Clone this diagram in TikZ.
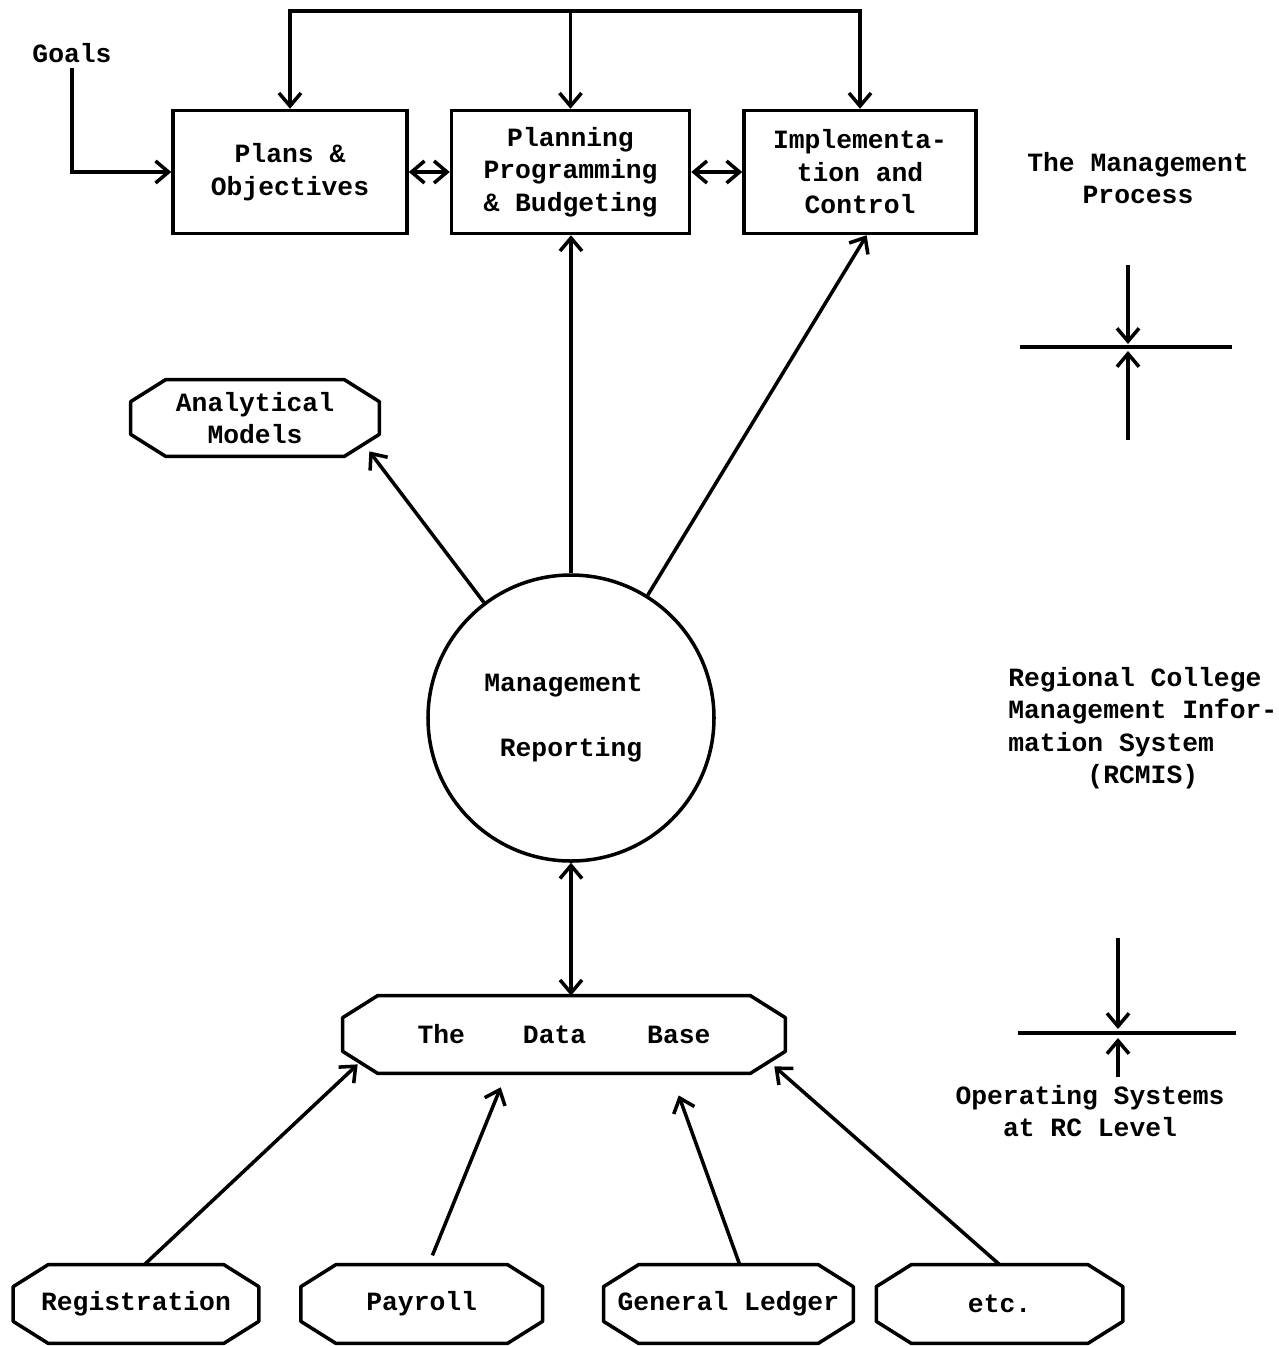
\documentclass[tikz,border=0pt]{standalone}
\usepackage{fontspec}
\setmonofont{Liberation Mono}
\usetikzlibrary{arrows.meta,positioning,calc}
\newcommand{\twfont}{\ttfamily\bfseries\fontsize{15}{18.5}\selectfont}
% octagonal frame round a named node
\newcommand{\octframe}[1]{%
  \draw[rule] ($(#1.north west)+(0.7,0)$) -- ($(#1.north east)+(-0.7,0)$) -- ($(#1.north east)+(0,-0.44)$)
    -- ($(#1.south east)+(0,0.44)$) -- ($(#1.south east)+(-0.7,0)$) -- ($(#1.south west)+(0.7,0)$)
    -- ($(#1.south west)+(0,0.44)$) -- ($(#1.north west)+(0,-0.44)$) -- cycle;}
\tikzset{
  box/.style={draw,line width=2pt,align=center,font=\twfont,minimum height=24.6mm,minimum width=47mm},
  octbox/.style={rectangle,align=center,font=\twfont,inner sep=0pt,minimum height=15.6mm,minimum width=49mm},
  bubble/.style={circle,draw,line width=2pt,align=center,font=\twfont,minimum size=57.2mm},
  txt/.style={align=center,font=\twfont,inner sep=0pt},
  arrow/.style={-{Straight Barb[length=2.6mm,width=4.4mm]},line width=2pt},
  dblarrow/.style={{Straight Barb[length=2.6mm,width=4.4mm]}-{Straight Barb[length=2.6mm,width=4.4mm]},line width=2pt},
  rule/.style={line width=2pt,line join=round}
}

\begin{document}
\begin{tikzpicture}
  \useasboundingbox (0,0) rectangle (25.56,-26.92);
  % the management process
  \node[txt] (goals) at (1.44,-1.06) {Goals};
  \node[box,minimum width=46.8mm] (plans) at (5.80,-3.44) {Plans \&\\Objectives};
  \node[box,right=8.2mm of plans,minimum width=47.6mm] (ppb) {Planning\\Programming\\\& Budgeting};
  \node[box,right=10.2mm of ppb,minimum width=46.4mm] (impl) {Implementa-\\tion and\\Control};
  \coordinate (fb) at ($(ppb.north)+(0,1.96)$);
  \draw[arrow] (fb) -| (plans.north);
  \draw[arrow] (fb) -| (impl.north);
  \draw[arrow] (fb) -- (ppb.north);
  \draw[arrow] ($(goals.south)+(0,-0.1)$) |- (plans.west);
  \draw[dblarrow] (plans) -- (ppb);
  \draw[dblarrow] (ppb) -- (impl);
  \node[txt] (mproc) at (22.76,-3.56) {The Management\\Process};
  % upper level marker
  \coordinate (lv1) at (22.56,-6.94);
  \coordinate (lv1w) at (20.40,-6.94);
  \coordinate (lv1e) at (24.64,-6.94);
  \draw[rule] (lv1w) -- (lv1e);
  \draw[arrow] ($(lv1)+(0,1.64)$) -- ($(lv1)+(0,0.06)$);
  \draw[arrow] ($(lv1)+(0,-1.86)$) -- ($(lv1)+(0,-0.08)$);
  % reporting level
  \node[octbox,minimum width=49.6mm,minimum height=15.2mm] (models) at (5.10,-8.36) {Analytical\\Models};
  \octframe{models}
  \node[bubble] (mr) at (11.42,-14.36) {\hspace*{-3mm}Management\\[6.5mm]Reporting};
  \draw[arrow] (mr.127) -- ($(models.south east)+(-0.2,0.1)$);
  \draw[arrow] (mr.north) -- (mr.north |- ppb.south);
  \draw[arrow] (mr.58) -- (impl.-84);
  \node[txt,align=left,anchor=west] (rcmis) at (20.16,-14.56) {Regional College\\Management Infor-\\mation System\\\phantom{xxxxx}(RCMIS)};
  % data base
  \node[octbox,minimum width=88.4mm,minimum height=15.4mm] (db) at (11.28,-20.69) {The\hspace{11.6mm}Data\hspace{12.2mm}Base};
  \octframe{db}
  \draw[dblarrow] (mr.south) -- (mr.south |- db.north);
  % lower level marker
  \coordinate (lv2) at (22.36,-20.66);
  \coordinate (lv2w) at (20.36,-20.66);
  \coordinate (lv2e) at (24.72,-20.66);
  \draw[rule] (lv2w) -- (lv2e);
  \draw[arrow] ($(lv2)+(0,1.90)$) -- ($(lv2)+(0,0.08)$);
  \draw[arrow] ($(lv2)+(0,-0.88)$) -- ($(lv2)+(0,-0.10)$);
  \node[txt] (opsys) at (21.80,-22.22) {Operating Systems\\at RC Level};
  % operating systems
  \node[octbox] (reg) at (2.72,-26.08) {Registration};
  \node[octbox,right=8.4mm of reg,minimum width=48.2mm] (pay) {Payroll};
  \node[octbox,right=12.2mm of pay,minimum width=49.8mm] (gl) {General Ledger};
  \node[octbox,right=4.6mm of gl,minimum width=49.2mm] (etc) {etc.};
  \octframe{reg}
  \octframe{pay}
  \octframe{gl}
  \octframe{etc}
  \draw[arrow] (reg.78) -- ($(db.south west)+(0.3,0.18)$);
  \draw[arrow,shorten <=2mm,shorten >=3mm] (pay.80) -- (db.-146);
  \draw[arrow,shorten >=4.7mm] (gl.74) -- (db.-20);
  \draw[arrow] (etc.north) -- ($(db.south east)+(-0.22,0.14)$);
\end{tikzpicture}
\end{document}
